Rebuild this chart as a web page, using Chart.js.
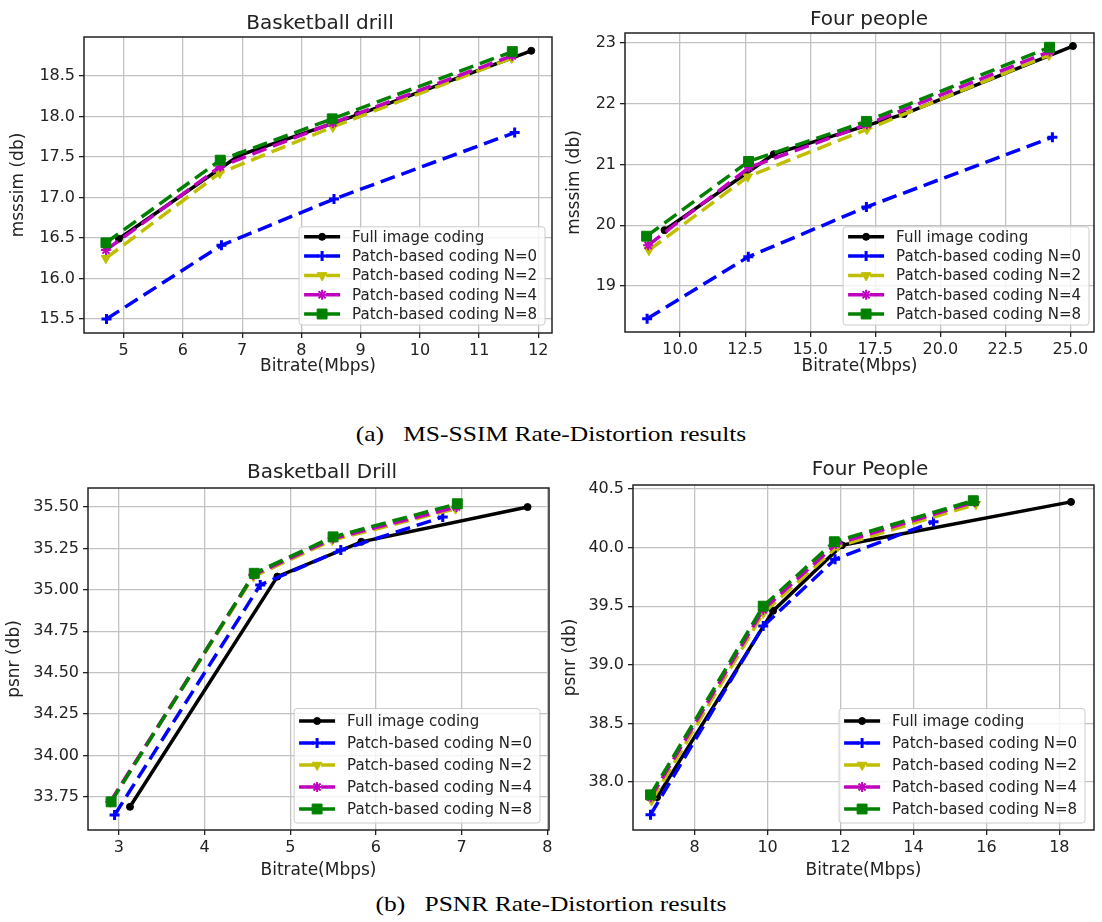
<!DOCTYPE html>
<html>
<head>
<meta charset="utf-8">
<script src="https://cdn.jsdelivr.net/npm/chart.js@4.4.1/dist/chart.umd.min.js"></script>
<style>
  body { margin: 0; background: #fff; width: 1102px; height: 922px; position: relative; overflow: hidden; }
  canvas { position: absolute; }
  .cap { position: absolute; left: 0; width: 1102px; text-align: center; font-family: 'Liberation Serif', serif; font-size: 22px; color: #000; transform: scaleX(1.16); transform-origin: 551px 0; }
</style>
</head>
<body>
<canvas id="c1" width="560" height="385" style="left:0;top:0"></canvas>
<canvas id="c2" width="542" height="385" style="left:560px;top:0"></canvas>
<canvas id="c3" width="560" height="430" style="left:0;top:455px"></canvas>
<canvas id="c4" width="542" height="430" style="left:560px;top:455px"></canvas>
<div class="cap" style="top:421px">(a)&nbsp;&nbsp; MS-SSIM Rate-Distortion results</div>
<div class="cap" style="top:891px">(b)&nbsp;&nbsp; PSNR Rate-Distortion results</div>
<script>
// legend labels
const seriesNames = ['Full image coding', 'Patch-based coding N=0', 'Patch-based coding N=2',
                     'Patch-based coding N=4', 'Patch-based coding N=8'];

// Basketball drill, MS-SSIM  [bitrate, msssim]
const bdSsimFull = [[4.92, 16.49], [6.95, 17.52], [8.95, 18.02], [11.88, 18.81]];
const bdSsimN0 = [[4.71, 15.50], [6.65, 16.41], [8.55, 16.98], [11.60, 17.80]];
const bdSsimN2 = [[4.70, 16.25], [6.62, 17.30], [8.53, 17.87], [11.55, 18.72]];
const bdSsimN4 = [[4.70, 16.35], [6.63, 17.38], [8.53, 17.92], [11.56, 18.75]];
const bdSsimN8 = [[4.70, 16.44], [6.63, 17.46], [8.52, 17.97], [11.56, 18.80]];

// Four people, MS-SSIM
const fpSsimFull = [[9.40, 19.92], [13.60, 21.17], [18.60, 21.83], [25.10, 22.95]];
const fpSsimN0 = [[8.73, 18.46], [12.62, 19.48], [17.16, 20.30], [24.31, 21.45]];
const fpSsimN2 = [[8.80, 19.59], [12.60, 20.80], [17.18, 21.58], [24.18, 22.80]];
const fpSsimN4 = [[8.77, 19.67], [12.65, 20.95], [17.18, 21.66], [24.20, 22.86]];
const fpSsimN8 = [[8.71, 19.82], [12.63, 21.05], [17.16, 21.71], [24.20, 22.93]];

// Basketball Drill, PSNR
const bdPsnrFull = [[3.13, 33.69], [4.85, 35.08], [5.83, 35.29], [7.77, 35.50]];
const bdPsnrN0 = [[2.95, 33.64], [4.65, 35.03], [5.59, 35.24], [6.78, 35.44]];
const bdPsnrN2 = [[2.90, 33.72], [4.57, 35.08], [5.49, 35.30], [6.93, 35.49]];
const bdPsnrN4 = [[2.90, 33.72], [4.57, 35.09], [5.50, 35.31], [6.94, 35.50]];
const bdPsnrN8 = [[2.91, 33.72], [4.58, 35.10], [5.50, 35.32], [6.95, 35.52]];

// Four People, PSNR
const fpPsnrFull = [[6.97, 37.87], [10.15, 39.46], [12.04, 40.02], [18.32, 40.39]];
const fpPsnrN0 = [[6.79, 37.72], [9.88, 39.33], [11.85, 39.90], [14.55, 40.22]];
const fpPsnrN2 = [[6.82, 37.84], [9.88, 39.44], [11.92, 40.01], [15.71, 40.37]];
const fpPsnrN4 = [[6.80, 37.87], [9.88, 39.47], [11.88, 40.03], [15.68, 40.39]];
const fpPsnrN8 = [[6.79, 37.89], [9.88, 39.50], [11.83, 40.05], [15.64, 40.40]];

// tick values
const bdSsimXTicks = [5, 6, 7, 8, 9, 10, 11, 12];
const bdSsimYTicks = [15.5, 16.0, 16.5, 17.0, 17.5, 18.0, 18.5];
const fpSsimXTicks = [10, 12.5, 15, 17.5, 20, 22.5, 25];
const fpSsimYTicks = [19, 20, 21, 22, 23];
const bdPsnrXTicks = [3, 4, 5, 6, 7, 8];
const bdPsnrYTicks = [33.75, 34.0, 34.25, 34.5, 34.75, 35.0, 35.25, 35.5];
const fpPsnrXTicks = [8, 10, 12, 14, 16, 18];
const fpPsnrYTicks = [38.0, 38.5, 39.0, 39.5, 40.0, 40.5];

// matplotlib-ish styles: k-o, b--+, y--v, m--*, g--s
const colors = ['#000000', '#0000ff', '#bfbf00', '#bf00bf', '#008000'];
const styles = [
    { dash: [], pointStyle: 'circle', radius: 3.5, bw: 1, rot: 0 },
    { dash: [15, 7], pointStyle: 'cross', radius: 5, bw: 3, rot: 0 },
    { dash: [15, 7], pointStyle: 'triangle', radius: 5.5, bw: 1, rot: 180 },
    { dash: [15, 7], pointStyle: 'star', radius: 5, bw: 2, rot: 0 },
    { dash: [15, 7], pointStyle: 'rect', radius: 7, bw: 1, rot: 0 },
];

const textColor = '#222';
const gridColor = '#c2c2c2';

function drawMarker(ctx, s, x, y, color) {
    ctx.fillStyle = color;
    ctx.strokeStyle = color;
    ctx.lineWidth = s.bw;
    ctx.setLineDash([]);
    Chart.helpers.drawPoint(ctx, { pointStyle: s.pointStyle, radius: s.radius, rotation: s.rot, borderWidth: s.bw }, x, y);
}

// frame, titles and an in-axes legend like matplotlib
function framePlugin(cfg) {
    return {
        id: 'frame',
        afterDraw(chart) {
            const ctx = chart.ctx, a = chart.chartArea;
            ctx.save();
            ctx.strokeStyle = '#222';
            ctx.lineWidth = 1.5;
            ctx.strokeRect(a.left, a.top, a.right - a.left, a.bottom - a.top);

            ctx.fillStyle = textColor;
            ctx.textAlign = 'center';
            ctx.textBaseline = 'middle';
            ctx.font = '20px "DejaVu Sans"';
            ctx.fillText(cfg.title, cfg.titleX, cfg.titleY);
            ctx.font = '17px "DejaVu Sans"';
            ctx.fillText('Bitrate(Mbps)', (a.left + a.right) / 2, cfg.xTitleY);
            ctx.save();
            ctx.translate(cfg.yTitleX, (a.top + a.bottom) / 2);
            ctx.rotate(-Math.PI / 2);
            ctx.fillText(cfg.yTitle, 0, 0);
            ctx.restore();

            // legend
            ctx.font = '15px "DejaVu Sans"';
            let tw = 0;
            seriesNames.forEach(n => { tw = Math.max(tw, ctx.measureText(n).width); });
            const w = 53 + tw + 8;
            const h = cfg.legPadTop + 4 * cfg.rowH + cfg.legPadBot;
            const x0 = a.right - cfg.legRight - w;
            const y0 = a.bottom - cfg.legBottom - h;
            ctx.fillStyle = 'rgba(255,255,255,0.8)';
            ctx.strokeStyle = '#cccccc';
            ctx.lineWidth = 1;
            ctx.beginPath();
            ctx.roundRect(x0, y0, w, h, 3);
            ctx.fill();
            ctx.stroke();
            seriesNames.forEach((n, i) => {
                const y = y0 + cfg.legPadTop + i * cfg.rowH;
                const s = styles[i];
                ctx.strokeStyle = colors[i];
                ctx.lineWidth = 3.5;
                ctx.setLineDash(s.dash);
                ctx.beginPath();
                ctx.moveTo(x0 + 5, y);
                ctx.lineTo(x0 + 41, y);
                ctx.stroke();
                drawMarker(ctx, s, x0 + 23, y, colors[i]);
                ctx.fillStyle = textColor;
                ctx.textAlign = 'left';
                ctx.fillText(n, x0 + 53, y + 1);
            });
            ctx.restore();
        }
    };
}

function makeChart(id, box, plot, cfg) {
    // box: canvas [left, top, w, h]; plot: axes [left, top, right, bottom], page pixels
    const padTop = plot[1] - box[1];
    const yW = plot[0] - box[0];
    const padRight = box[0] + box[2] - plot[2];
    const xH = box[1] + box[3] - plot[3];
    const sets = cfg.series.map((pts, i) => ({
        label: seriesNames[i],
        data: pts.map(p => ({ x: p[0], y: p[1] })),
        borderColor: colors[i],
        backgroundColor: colors[i],
        borderWidth: 3.5,
        borderDash: styles[i].dash,
        pointStyle: styles[i].pointStyle,
        pointRadius: styles[i].radius,
        pointBorderWidth: styles[i].bw,
        pointRotation: styles[i].rot,
        pointBackgroundColor: colors[i],
        pointBorderColor: colors[i],
        tension: 0,
        order: 5 - i
    }));
    const tickFont = { family: 'DejaVu Sans', size: 16 };
    return new Chart(document.getElementById(id), {
        type: 'line',
        data: { datasets: sets },
        options: {
            responsive: false,
            animation: false,
            layout: { padding: { top: padTop, right: padRight, left: 0, bottom: 0 } },
            plugins: { legend: { display: false }, tooltip: { enabled: false } },
            scales: {
                x: {
                    type: 'linear',
                    min: cfg.xMin, max: cfg.xMax,
                    afterBuildTicks: s => { s.ticks = cfg.xTicks.map(v => ({ value: v })); },
                    afterFit: s => { s.height = xH; },
                    grid: { color: gridColor, lineWidth: 1.3, tickColor: '#222', tickLength: 5, tickWidth: 1.3 },
                    border: { display: false },
                    ticks: { color: textColor, font: tickFont, padding: 3, maxRotation: 0, autoSkip: false,
                             callback: v => v.toFixed(cfg.xDec) }
                },
                y: {
                    type: 'linear',
                    min: cfg.yMin, max: cfg.yMax,
                    afterBuildTicks: s => { s.ticks = cfg.yTicks.map(v => ({ value: v })); },
                    afterFit: s => { s.width = yW; },
                    grid: { color: gridColor, lineWidth: 1.3, tickColor: '#222', tickLength: 5, tickWidth: 1.3 },
                    border: { display: false },
                    ticks: { color: textColor, font: tickFont, padding: 4, autoSkip: false,
                             callback: v => v.toFixed(cfg.yDec) }
                }
            }
        },
        plugins: [framePlugin(cfg)]
    });
}

makeChart('c1', [0, 0, 560, 385], [84, 37, 557, 333], {
    series: [bdSsimFull, bdSsimN0, bdSsimN2, bdSsimN4, bdSsimN8],
    xMin: 4.33, xMax: 12.23, yMin: 15.327, yMax: 18.98,
    xTicks: bdSsimXTicks, yTicks: bdSsimYTicks, xDec: 0, yDec: 1,
    title: 'Basketball drill', titleX: 320, titleY: 24,
    yTitle: 'msssim (db)', yTitleX: 19, xTitleY: 367,
    legRight: 7, legBottom: 8, rowH: 19.3, legPadTop: 10, legPadBot: 11
});

makeChart('c2', [560, 0, 542, 385], [625, 33, 1102, 332], {
    series: [fpSsimFull, fpSsimN0, fpSsimN2, fpSsimN4, fpSsimN8],
    xMin: 7.88, xMax: 25.91, yMin: 18.243, yMax: 23.165,
    xTicks: fpSsimXTicks, yTicks: fpSsimYTicks, xDec: 1, yDec: 0,
    title: 'Four people', titleX: 309, titleY: 20,
    yTitle: 'msssim (db)', yTitleX: 15, xTitleY: 367,
    legRight: 5, legBottom: 7, rowH: 19.3, legPadTop: 10, legPadBot: 11
});

makeChart('c3', [0, 455, 560, 430], [88, 488, 549, 830], {
    series: [bdPsnrFull, bdPsnrN0, bdPsnrN2, bdPsnrN4, bdPsnrN8],
    xMin: 2.64, xMax: 8.02, yMin: 33.55, yMax: 35.615,
    xTicks: bdPsnrXTicks, yTicks: bdPsnrYTicks, xDec: 0, yDec: 2,
    title: 'Basketball Drill', titleX: 322, titleY: 18,
    yTitle: 'psnr (db)', yTitleX: 15, xTitleY: 416,
    legRight: 9, legBottom: 7, rowH: 22, legPadTop: 12.5, legPadBot: 14
});

makeChart('c4', [560, 455, 542, 430], [633, 485, 1097, 830], {
    series: [fpPsnrFull, fpPsnrN0, fpPsnrN2, fpPsnrN4, fpPsnrN8],
    xMin: 6.31, xMax: 18.95, yMin: 37.59, yMax: 40.534,
    xTicks: fpPsnrXTicks, yTicks: fpPsnrYTicks, xDec: 0, yDec: 1,
    title: 'Four People', titleX: 310, titleY: 15,
    yTitle: 'psnr (db)', yTitleX: 11, xTitleY: 416,
    legRight: 9, legBottom: 7, rowH: 22, legPadTop: 12.5, legPadBot: 14
});
</script>
</body>
</html>
